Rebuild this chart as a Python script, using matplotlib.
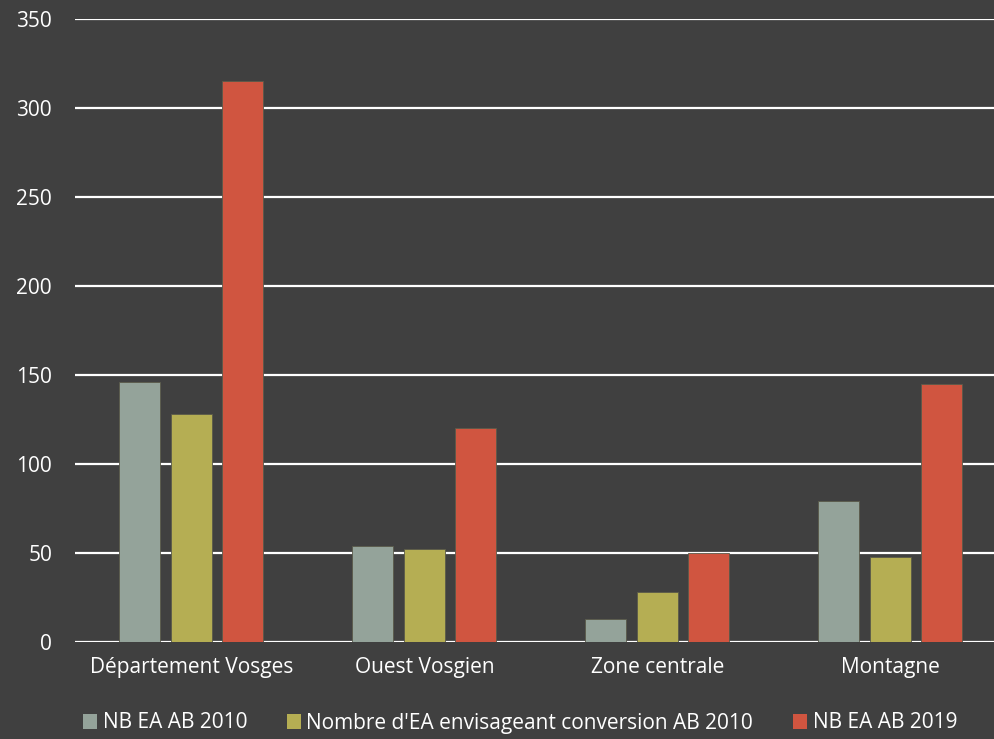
import numpy as np
import matplotlib.pyplot as plt
from matplotlib.patches import Patch

categories = ['Département Vosges', 'Ouest Vosgien', 'Zone centrale', 'Montagne']
nb_2010 = [146, 54, 13, 79]
conversion_2010 = [128, 52, 28, 48]
nb_2019 = [315, 120, 50, 145]
series_names = ['NB EA AB 2010', "Nombre d'EA envisageant conversion AB 2010", 'NB EA AB 2019']
colors = ['#94A39A', '#B5AE53', '#D05540']

bg = '#404040'
plt.rcParams['font.family'] = ['Open Sans', 'DejaVu Sans']
fs = 15

fig = plt.figure(figsize=(9.94, 7.39), dpi=100, facecolor=bg)
ax = fig.add_axes([75 / 994, 1 - 642 / 739, 1 - 75 / 994, (642 - 19) / 739])
ax.set_facecolor(bg)

x = np.arange(len(categories))
w = 0.176
step = 0.221
for i, (vals, c) in enumerate(zip([nb_2010, conversion_2010, nb_2019], colors)):
    ax.bar(x + (i - 1) * step, vals, width=w, color=c, edgecolor='#5a5a4a', linewidth=0.6, zorder=3)

# the plot area runs a little past the right edge of the picture
ax.set_xlim(-0.5, 3.446)
ax.set_ylim(0, 350)
ax.set_yticks(range(0, 351, 50))
ax.yaxis.grid(True, color='white', linewidth=1.6, zorder=0)
ax.set_axisbelow(True)
for s in ax.spines.values():
    s.set_visible(False)
ax.tick_params(length=0, colors='white', labelsize=fs)
ax.tick_params(axis='y', pad=16.5)
ax.tick_params(axis='x', pad=11)
ax.set_xticks(x)
ax.set_xticklabels(categories)

handles = [Patch(facecolor=c, edgecolor='none') for c in colors]
fig.legend(handles, series_names, loc='center', bbox_to_anchor=(0.523, 1 - 723 / 739), ncol=3,
           frameon=False, labelcolor='white', fontsize=fs, handlelength=0.7, handleheight=0.7,
           handletextpad=0.25, columnspacing=1.9)

fig.savefig('out.png', dpi=100, facecolor=bg)
